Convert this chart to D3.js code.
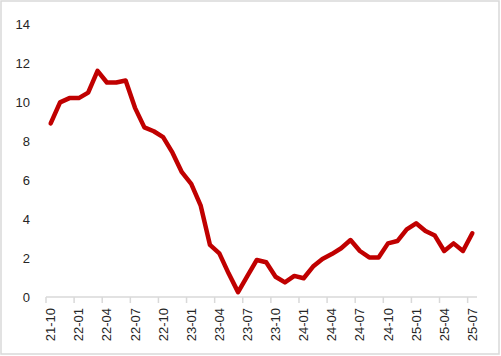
<!DOCTYPE html>
<html>
<head>
<meta charset="utf-8">
<script src="https://cdn.jsdelivr.net/npm/d3@7"></script>
<style>
  body { margin: 0; background: #fff; }
  svg { display: block; }
</style>
</head>
<body>
<svg id="drawing_region"></svg>
<script>
// months 2021-10 .. 2025-07
const months = [
  "21-10","21-11","21-12",
  "22-01","22-02","22-03","22-04","22-05","22-06","22-07","22-08","22-09","22-10","22-11","22-12",
  "23-01","23-02","23-03","23-04","23-05","23-06","23-07","23-08","23-09","23-10","23-11","23-12",
  "24-01","24-02","24-03","24-04","24-05","24-06","24-07","24-08","24-09","24-10","24-11","24-12",
  "25-01","25-02","25-03","25-04","25-05","25-06","25-07"
];
const values = [
  8.9, 9.98, 10.2,
  10.2, 10.48, 11.6, 11.0, 11.0, 11.1, 9.7, 8.7, 8.5, 8.2, 7.4, 6.4,
  5.8, 4.7, 2.67, 2.24, 1.2, 0.25, 1.08, 1.9, 1.78, 1.04, 0.75, 1.08,
  0.96, 1.56, 1.95, 2.2, 2.5, 2.92, 2.36, 2.03, 2.03, 2.75, 2.87, 3.47,
  3.78, 3.38, 3.15, 2.36, 2.75, 2.36, 3.27
];
const yTicks = [0, 2, 4, 6, 8, 10, 12, 14];

const width = 501, height = 356;
const margin = {top: 24, right: 24, bottom: 59, left: 46};

const svg = d3.select('#drawing_region')
    .attr('width', width)
    .attr('height', height);

// outer frame
svg.append('rect')
    .attr('x', 1).attr('y', 1)
    .attr('width', width - 3).attr('height', height - 3)
    .attr('fill', '#fff')
    .attr('stroke', '#d9d9d9')
    .attr('stroke-width', 1.5);

const x = d3.scaleBand()
    .domain(months)
    .range([margin.left, width - margin.right])
    .padding(0);

const y = d3.scaleLinear()
    .domain([0, 14])
    .range([height - margin.bottom, margin.top]);

const font = '"Liberation Sans", Arial, sans-serif';

// y labels (no axis line)
svg.append('g')
    .selectAll('text')
    .data(yTicks)
    .join('text')
    .attr('x', 30)
    .attr('y', d => y(d))
    .attr('dy', '0.35em')
    .attr('text-anchor', 'end')
    .attr('font-family', font)
    .attr('font-size', 13)
    .attr('fill', '#262626')
    .text(d => d);

// x axis line + ticks between categories
const base = y(0);
svg.append('line')
    .attr('x1', x.range()[0]).attr('x2', x.range()[1])
    .attr('y1', base).attr('y2', base)
    .attr('stroke', '#d9d9d9')
    .attr('stroke-width', 1.5);

const shown = months.filter((m, i) => i % 3 === 0);

svg.append('g')
    .selectAll('line')
    .data(shown)
    .join('line')
    .attr('x1', d => x(d)).attr('x2', d => x(d))
    .attr('y1', base).attr('y2', base + 6)
    .attr('stroke', '#d9d9d9')
    .attr('stroke-width', 1.5);

svg.append('g')
    .selectAll('text')
    .data(shown)
    .join('text')
    .attr('transform', d => `translate(${x(d) + x.bandwidth() / 2}, ${base + 11}) rotate(-90)`)
    .attr('dy', '0.35em')
    .attr('text-anchor', 'end')
    .attr('font-family', font)
    .attr('font-size', 13)
    .attr('fill', '#262626')
    .text(d => d);

// line
const line = d3.line()
    .x((d, i) => x(months[i]) + x.bandwidth() / 2)
    .y(d => y(d));

svg.append('path')
    .datum(values)
    .attr('d', line)
    .attr('fill', 'none')
    .attr('stroke', '#c00000')
    .attr('stroke-width', 4.5)
    .attr('stroke-linejoin', 'round')
    .attr('stroke-linecap', 'round');
</script>
</body>
</html>
